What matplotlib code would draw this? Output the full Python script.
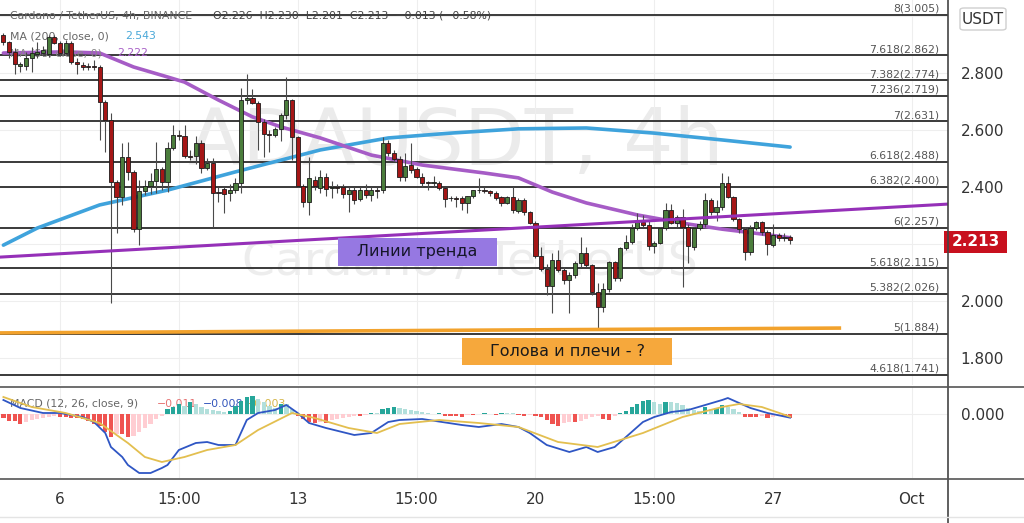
import matplotlib
matplotlib.use("Agg")
import numpy as np
import matplotlib.pyplot as plt
from matplotlib.patches import Rectangle, FancyBboxPatch
from matplotlib.lines import Line2D

# ---- candles (4h, ADA/USDT) ----
opens = [2.933, 2.909, 2.874, 2.825, 2.825, 2.853, 2.867, 2.870, 2.867, 2.926,
         2.905, 2.870, 2.905, 2.839, 2.828, 2.825, 2.825, 2.821, 2.698, 2.635,
         2.418, 2.365, 2.505, 2.453, 2.253, 2.386, 2.404, 2.421, 2.463, 2.418,
         2.537, 2.582, 2.579, 2.509, 2.509, 2.554, 2.467, 2.484, 2.382, 2.393,
         2.379, 2.389, 2.414, 2.705, 2.712, 2.695, 2.628, 2.586, 2.582, 2.604,
         2.653, 2.705, 2.575, 2.404, 2.347, 2.425, 2.396, 2.435, 2.396, 2.400,
         2.400, 2.375, 2.389, 2.358, 2.389, 2.372, 2.389, 2.389, 2.554, 2.519,
         2.498, 2.435, 2.477, 2.463, 2.435, 2.415, 2.414, 2.414, 2.396, 2.361,
         2.361, 2.361, 2.344, 2.368, 2.389, 2.389, 2.386, 2.379, 2.365, 2.344,
         2.365, 2.316, 2.354, 2.312, 2.274, 2.158, 2.112, 2.053, 2.144, 2.109,
         2.074, 2.091, 2.133, 2.168, 2.126, 2.032, 1.979, 2.042, 2.137, 2.081,
         2.186, 2.207, 2.256, 2.277, 2.267, 2.193, 2.204, 2.256, 2.319, 2.274,
         2.295, 2.260, 2.189, 2.256, 2.270, 2.354, 2.312, 2.330, 2.414, 2.365,
         2.288, 2.253, 2.172, 2.256, 2.277, 2.242, 2.196, 2.232, 2.221, 2.226]
highs = [2.940, 2.912, 2.888, 2.839, 2.874, 2.891, 2.909, 2.895, 2.933, 2.933,
         2.912, 2.916, 2.912, 2.853, 2.839, 2.835, 2.846, 2.828, 2.705, 2.660,
         2.425, 2.554, 2.558, 2.460, 2.425, 2.425, 2.449, 2.558, 2.470, 2.558,
         2.618, 2.600, 2.618, 2.530, 2.579, 2.565, 2.500, 2.500, 2.400, 2.400,
         2.410, 2.430, 2.747, 2.796, 2.745, 2.700, 2.640, 2.600, 2.610, 2.660,
         2.786, 2.710, 2.580, 2.410, 2.505, 2.440, 2.460, 2.450, 2.420, 2.410,
         2.410, 2.400, 2.400, 2.400, 2.410, 2.400, 2.400, 2.575, 2.565, 2.530,
         2.510, 2.520, 2.554, 2.470, 2.450, 2.420, 2.440, 2.420, 2.400, 2.370,
         2.370, 2.370, 2.370, 2.390, 2.432, 2.400, 2.390, 2.385, 2.370, 2.370,
         2.400, 2.360, 2.360, 2.315, 2.280, 2.189, 2.130, 2.170, 2.180, 2.120,
         2.100, 2.140, 2.225, 2.190, 2.130, 2.063, 2.063, 2.140, 2.140, 2.190,
         2.230, 2.270, 2.309, 2.300, 2.280, 2.210, 2.260, 2.344, 2.340, 2.300,
         2.323, 2.270, 2.260, 2.280, 2.379, 2.360, 2.354, 2.449, 2.440, 2.370,
         2.290, 2.260, 2.265, 2.280, 2.280, 2.250, 2.270, 2.240, 2.240, 2.230]
lows = [2.898, 2.853, 2.796, 2.804, 2.811, 2.804, 2.853, 2.860, 2.856, 2.900,
        2.860, 2.865, 2.832, 2.796, 2.810, 2.810, 2.810, 2.565, 2.523, 1.993,
        2.239, 2.337, 2.425, 2.242, 2.196, 2.372, 2.375, 2.379, 2.390, 2.382,
        2.530, 2.565, 2.500, 2.495, 2.480, 2.449, 2.460, 2.260, 2.347, 2.309,
        2.350, 2.380, 2.380, 2.690, 2.690, 2.530, 2.505, 2.523, 2.575, 2.560,
        2.640, 2.495, 2.400, 2.330, 2.302, 2.390, 2.380, 2.370, 2.360, 2.380,
        2.360, 2.312, 2.340, 2.350, 2.360, 2.350, 2.360, 2.380, 2.510, 2.490,
        2.420, 2.420, 2.450, 2.430, 2.400, 2.390, 2.400, 2.390, 2.330, 2.350,
        2.330, 2.320, 2.310, 2.360, 2.380, 2.380, 2.370, 2.355, 2.335, 2.340,
        2.310, 2.310, 2.300, 2.270, 2.150, 2.105, 2.021, 1.958, 2.100, 2.060,
        1.958, 2.080, 2.120, 2.120, 2.020, 1.905, 1.961, 2.030, 2.070, 2.070,
        2.180, 2.200, 2.250, 2.260, 2.180, 2.170, 2.200, 2.250, 2.270, 2.260,
        2.049, 2.133, 2.180, 2.250, 2.260, 2.300, 2.280, 2.320, 2.360, 2.280,
        2.240, 2.144, 2.160, 2.250, 2.230, 2.160, 2.190, 2.210, 2.210, 2.201]
closes = [2.909, 2.874, 2.832, 2.832, 2.853, 2.870, 2.874, 2.881, 2.926, 2.905,
          2.870, 2.905, 2.839, 2.832, 2.821, 2.821, 2.821, 2.698, 2.635, 2.418,
          2.365, 2.505, 2.453, 2.253, 2.386, 2.404, 2.421, 2.463, 2.418, 2.537,
          2.582, 2.579, 2.509, 2.505, 2.554, 2.467, 2.484, 2.379, 2.379, 2.375,
          2.389, 2.414, 2.705, 2.712, 2.695, 2.628, 2.586, 2.582, 2.604, 2.653,
          2.705, 2.575, 2.404, 2.347, 2.432, 2.404, 2.435, 2.393, 2.400, 2.396,
          2.375, 2.389, 2.354, 2.389, 2.372, 2.389, 2.386, 2.554, 2.519, 2.498,
          2.435, 2.474, 2.460, 2.435, 2.414, 2.414, 2.414, 2.396, 2.358, 2.361,
          2.358, 2.344, 2.368, 2.389, 2.389, 2.386, 2.379, 2.361, 2.344, 2.365,
          2.319, 2.354, 2.312, 2.274, 2.158, 2.112, 2.053, 2.144, 2.109, 2.074,
          2.091, 2.133, 2.168, 2.126, 2.032, 1.979, 2.042, 2.137, 2.081, 2.186,
          2.207, 2.256, 2.277, 2.267, 2.193, 2.204, 2.256, 2.319, 2.274, 2.295,
          2.260, 2.193, 2.256, 2.270, 2.354, 2.312, 2.330, 2.414, 2.365, 2.288,
          2.253, 2.172, 2.256, 2.277, 2.242, 2.200, 2.232, 2.221, 2.221, 2.213]

# moving averages, read at candle positions
ma200_idx = [0, 6, 17, 29, 41, 56, 68, 79, 91, 103, 115, 127, 139]
ma200_val = [2.196, 2.256, 2.337, 2.389, 2.453, 2.530, 2.572, 2.589, 2.604, 2.607, 2.589, 2.565, 2.540]
ma50_idx = [0, 11, 17, 23, 29, 32, 38, 44, 49, 56, 65, 74, 85, 91, 97, 103, 112, 121, 127, 132, 139]
ma50_val = [2.870, 2.874, 2.870, 2.821, 2.786, 2.768, 2.705, 2.646, 2.611, 2.572, 2.512,
            2.477, 2.449, 2.432, 2.382, 2.344, 2.302, 2.270, 2.252, 2.240, 2.222]

# fibonacci extension levels
fib_ratio = ['8', '7.618', '7.382', '7.236', '7', '6.618', '6.382', '6', '5.618', '5.382', '5', '4.618']
fib_price = [3.005, 2.862, 2.774, 2.719, 2.631, 2.488, 2.400, 2.257, 2.115, 2.026, 1.884, 1.741]

# drawn lines
trend_idx = [-0.6, 166.9]
trend_val = [2.154, 2.340]
neck_idx = [-0.6, 147.7]
neck_val = [1.888, 1.905]

# MACD (12, 26, close, 9)
macd_idx = [0, 3, 7, 10, 14, 16, 18, 19, 21, 22, 24, 26, 28, 29, 31, 34, 36, 38, 41, 43, 45,
            48, 50, 52, 54, 57, 62, 65, 68, 70, 74, 81, 84, 88, 91, 93, 96, 100, 103, 105,
            108, 110, 113, 115, 118, 121, 124, 127, 128, 130, 132, 135, 139]
macd_val = [0.042, 0.018, 0.003, 0.003, -0.009, -0.024, -0.057, -0.099, -0.129, -0.153, -0.177,
            -0.177, -0.162, -0.153, -0.108, -0.087, -0.084, -0.093, -0.093, -0.018, 0.003,
            0.012, 0.027, 0.003, -0.027, -0.042, -0.063, -0.057, -0.024, -0.018, -0.015,
            -0.033, -0.039, -0.030, -0.039, -0.057, -0.093, -0.114, -0.099, -0.114,
            -0.099, -0.069, -0.024, -0.009, 0.006, 0.012, 0.027, 0.042, 0.048, 0.033,
            0.018, 0.003, -0.011]
sig_idx = [0, 5, 11, 17, 22, 25, 28, 32, 36, 41, 45, 51, 55, 61, 66, 70, 77, 84, 91, 98,
           105, 113, 120, 127, 130, 134, 139]
sig_val = [0.051, 0.021, 0.003, -0.027, -0.087, -0.129, -0.144, -0.129, -0.108, -0.093,
           -0.048, 0.003, -0.012, -0.042, -0.057, -0.030, -0.018, -0.027, -0.039, -0.084,
           -0.099, -0.057, -0.009, 0.021, 0.030, 0.021, -0.008]
hist_val = [-0.012, -0.021, -0.021, -0.030, -0.024, -0.018, -0.015, -0.012, -0.009, -0.006,
            -0.009, -0.009, -0.012, -0.012, -0.015, -0.021, -0.030, -0.036, -0.054,
            -0.069, -0.060, -0.060, -0.069, -0.066, -0.054, -0.042, -0.030, -0.015, -0.006,
            0.015, 0.021, 0.030, 0.024, 0.036, 0.030, 0.021, 0.015, 0.012, 0.009,
            0.006, 0.009, 0.024, 0.039, 0.051, 0.054, 0.045, 0.036, 0.024, 0.018,
            0.030, 0.030, 0.015, -0.006, -0.015, -0.024, -0.027, -0.024, -0.027, -0.018,
            -0.015, -0.012, -0.009, -0.006, -0.006, -0.003, 0.003, 0.003, 0.015, 0.018,
            0.021, 0.018,
            0.015, 0.012, 0.009, 0.006, 0.003, 0.0, 0.003, -0.006, -0.006, -0.006,
            -0.009, -0.003, -0.003, 0.0, 0.003, 0.0, -0.003, 0.003, 0.003, 0.003,
            -0.003, -0.006, -0.003, -0.006, -0.009, -0.018, -0.030, -0.036, -0.027, -0.024,
            -0.024, -0.021, -0.015, -0.009, -0.006, -0.015, -0.018, -0.006, 0.003, 0.009,
            0.021, 0.030, 0.039, 0.042, 0.036, 0.030, 0.036, 0.036, 0.033, 0.027,
            0.018, 0.012, 0.009, 0.021, 0.015, 0.018, 0.027, 0.021, 0.015, 0.006,
            -0.009, -0.009, -0.009, -0.006, -0.012, -0.009, -0.006, -0.006, -0.012]

date_pos = [10, 31, 52, 73, 94, 115, 136, 160.5]
date_lab = ['6', '15:00', '13', '15:00', '20', '15:00', '27', 'Oct']
price_ticks = [1.8, 2.0, 2.2, 2.4, 2.6, 2.8, 3.0]

W, H = 1024, 523
fig = plt.figure(figsize=(W / 100, H / 100), dpi=100)
fig.patch.set_facecolor('white')


def fbox(x0, y0, x1, y1):
    # pixel box (top-left origin) -> figure fraction rect
    return [x0 / W, 1 - y1 / H, (x1 - x0) / W, (y1 - y0) / H]


ax = fig.add_axes(fbox(0, 0, 948, 385))
axm = fig.add_axes(fbox(0, 387, 948, 478))
XL = (-0.6, 166.9)

for a in (ax, axm):
    a.set_xlim(*XL)
    for s in a.spines.values():
        s.set_visible(False)
    a.set_xticks(date_pos)
    a.grid(True, color='#eeeeee', lw=0.8, zorder=0)
    a.yaxis.tick_right()
    a.tick_params(length=0, labelsize=11, labelcolor='#333333', pad=9)
    a.set_axisbelow(True)

# ---- main price panel ----
ax.set_ylim(1.7053, 3.056)
ax.set_yticks(price_ticks)
ax.set_yticklabels(['' if t in (2.2, 3.0) else f'{t:.3f}' for t in price_ticks])
ax.set_xticklabels([])

# watermark
ax.text(80, 2.555, 'ADAUSDT, 4h', fontsize=57, color='#ebebeb', ha='center', va='center',
        family=['Liberation Sans Narrow', 'DejaVu Sans'], zorder=0.5)
ax.text(82.5, 2.135, 'Cardano / TetherUS', fontsize=34, color='#ededed', ha='center', va='center',
        family=['Liberation Sans Narrow', 'DejaVu Sans'], zorder=0.5)

for r, p in zip(fib_ratio, fib_price):
    ax.axhline(p, color='#3a3a3a', lw=1.4, zorder=1)
    ax.text(165.4, p + 0.004, f'{r}({p:.3f})', ha='right', va='bottom', fontsize=7.8,
            color='#555555', zorder=1.5)

ax.plot(ma200_idx, ma200_val, color='#3fa3dc', lw=2.6, zorder=2, solid_capstyle='round')
ax.plot(ma50_idx, ma50_val, color='#a65cc6', lw=2.6, zorder=2, solid_capstyle='round')

# legend texts sit behind the candles
tf = fig.transFigure
ax.text(10 / W, 1 - 16 / H, 'Cardano / TetherUS, 4h, BINANCE', transform=tf, fontsize=7.8,
        color='#666666', va='center', zorder=2.5)
ax.text(213 / W, 1 - 16 / H, 'O2.226  H2.230  L2.201  C2.213  \u22120.013 (\u22120.58%)',
        transform=tf, fontsize=7.8, color='#444444', va='center', zorder=2.5)
ax.text(10 / W, 1 - 36 / H, 'MA (200, close, 0)', transform=tf, fontsize=7.8,
        color='#666666', va='center', zorder=2.5)
ax.text(125 / W, 1 - 36 / H, '2.543', transform=tf, fontsize=7.8, color='#4aa8d8',
        va='center', zorder=2.5)
ax.text(10 / W, 1 - 53 / H, 'MA (50, close, 0)', transform=tf, fontsize=7.8,
        color='#888888', va='center', zorder=2.5)
ax.text(117 / W, 1 - 53 / H, '2.222', transform=tf, fontsize=7.8, color='#a65cc6',
        va='center', zorder=2.5)

o = np.array(opens)
hi = np.array(highs)
lo = np.array(lows)
c = np.array(closes)
idx = np.arange(len(c))
up = c >= o
ax.vlines(idx, lo, hi, color='#4a4a4a', lw=0.8, zorder=3)
ax.bar(idx, np.maximum(np.abs(c - o), 0.002), bottom=np.minimum(o, c), width=0.74,
       color=['#4b7d3c' if u else '#a51616' for u in up], edgecolor='#1c1c1c',
       linewidth=0.6, zorder=4)

ax.plot(trend_idx, trend_val, color='#9530b8', lw=2.2, zorder=5)
ax.plot(neck_idx, neck_val, color='#f2a22c', lw=2.6, zorder=5)

# ---- MACD panel ----
axm.set_ylim(-0.192, 0.081)
axm.set_yticks([0.0])
axm.set_yticklabels(['0.000'])
axm.tick_params(axis='x', pad=10)

hv = np.array(hist_val)
hcol = []
for i, v in enumerate(hv):
    prev = hv[i - 1] if i > 0 else 0.0
    if v >= 0:
        hcol.append('#26a69a' if v > prev else '#b2dfdb')
    else:
        hcol.append('#ffcdd2' if v > prev else '#ef5350')
axm.text(10 / W, 1 - 404 / H, 'MACD (12, 26, close, 9)', transform=tf, fontsize=7.8,
         color='#666666', va='center', zorder=1)
axm.text(157 / W, 1 - 404 / H, '\u22120.011', transform=tf, fontsize=7.8,
         color='#e57373', va='center', zorder=1)
axm.text(203 / W, 1 - 404 / H, '\u22120.008', transform=tf, fontsize=7.8,
         color='#3355bb', va='center', zorder=1)
axm.text(246 / W, 1 - 404 / H, '\u22120.003', transform=tf, fontsize=7.8,
         color='#d4b64a', va='center', zorder=1)
axm.bar(np.arange(len(hv)), hv, width=0.75, color=hcol, zorder=2)
axm.plot(macd_idx, macd_val, color='#2f56c4', lw=1.3, zorder=3)
axm.plot(sig_idx, sig_val, color='#e3bf4f', lw=1.3, zorder=3)
axm.set_xticklabels(date_lab)

# ---- frame lines ----
fig.add_artist(Line2D([947.5 / W, 947.5 / W], [0, 1], transform=tf, color='#444444', lw=1.2))
fig.add_artist(Line2D([0, 1], [1 - 386.5 / H, 1 - 386.5 / H], transform=tf, color='#555555', lw=1.2))
fig.add_artist(Line2D([0, 1], [1 - 479 / H, 1 - 479 / H], transform=tf, color='#555555', lw=1.2))
fig.add_artist(Line2D([0, 1], [1 - 517 / H, 1 - 517 / H], transform=tf, color='#e4e4e4', lw=1))

# ---- price tag and currency box ----
fig.patches.append(Rectangle((944 / W, 1 - 253 / H), 63 / W, 22 / H, transform=tf,
                             facecolor='#c8101e', edgecolor='none'))
fig.text(975.5 / W, 1 - 242 / H, '2.213', color='white', fontsize=11, fontweight='bold',
         ha='center', va='center')
fig.patches.append(FancyBboxPatch((960 / W, 1 - 30 / H), 46 / W, 22 / H, transform=tf,
                                  boxstyle='round,pad=0,rounding_size=0.004',
                                  facecolor='white', edgecolor='#cfcfcf', lw=1))
fig.text(983 / W, 1 - 19 / H, 'USDT', color='#333333', fontsize=11, ha='center', va='center')

# ---- annotation labels ----
fig.patches.append(Rectangle((338 / W, 1 - 266 / H), 159 / W, 28 / H, transform=tf,
                             facecolor='#9678e2', edgecolor='none'))
fig.text(417.5 / W, 1 - 252 / H, 'Линии тренда', color='#16162a', fontsize=11.5,
         ha='center', va='center')
fig.patches.append(Rectangle((462 / W, 1 - 365 / H), 210 / W, 27 / H, transform=tf,
                             facecolor='#f6a83c', edgecolor='none'))
fig.text(567 / W, 1 - 351.5 / H, 'Голова и плечи - ?', color='#1a1a1a', fontsize=11.5,
         ha='center', va='center')

fig.savefig('out.png', dpi=100)
plt.close(fig)
